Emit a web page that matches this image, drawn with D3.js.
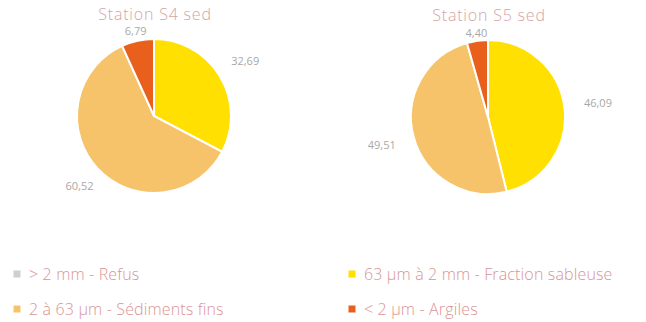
<!DOCTYPE html>
<html>
<head>
  <meta charset="utf-8" />
  <title>Stations S4 / S5 sed</title>
  <script src="https://cdnjs.cloudflare.com/ajax/libs/d3/7.8.5/d3.min.js"></script>
  <style>
    body { margin: 0; background: #fff; }
    svg { font-family: "Open Sans", "Lato", sans-serif; }
  </style>
</head>
<body>
  <svg width="646" height="322"></svg>
  <script>
    // categories (legend order)
    const categories = ['> 2 mm - Refus', '63 \u00b5m \u00e0 2 mm - Fraction sableuse', '2 \u00e0 63 \u00b5m - S\u00e9diments fins', '< 2 \u00b5m - Argiles']
    const colors = ['#cfcfcf', '#ffe000', '#f7c36a', '#e8601c']
    const stations = ['Station S4 sed', 'Station S5 sed']
    const s4Values = [0, 32.69, 60.52, 6.79]
    const s5Values = [0, 46.09, 49.51, 4.40]

    const svg = d3.select('svg')
    const color = d3.scaleOrdinal().domain(categories).range(colors)
    const r = 77
    const pie = d3.pie().sort(null).value(function(d) { return d.v })
    const arc = d3.arc().innerRadius(0).outerRadius(r)
    const fmt = function(v) { return d3.format('.2f')(v).replace('.', ',') }

    function drawPie(title, values, cx, cy) {
      const data = categories.map(function(c, i) { return { cat: c, v: values[i] } })
      const g = svg.append('g').attr('transform', 'translate(' + cx + ',' + cy + ')')

      g.append('text')
        .attr('x', 1)
        .attr('y', -r - 19.5)
        .attr('text-anchor', 'middle')
        .style('font-size', '16px')
        .style('font-weight', 300)
        .style('letter-spacing', '0.8px')
        .style('fill', '#d2a6a6')
        .text(title)

      const arcs = pie(data).filter(function(d) { return d.data.v > 0 })

      g.selectAll('path')
        .data(arcs)
        .enter()
        .append('path')
        .attr('d', arc)
        .style('fill', function(d) { return color(d.data.cat) })
        .style('stroke', '#fff')
        .style('stroke-width', '2px')

      g.selectAll('text.lbl')
        .data(arcs)
        .enter()
        .append('text')
        .attr('class', 'lbl')
        .attr('transform', function(d) {
          const a = (d.startAngle + d.endAngle) / 2
          const s = Math.sin(a), c = -Math.cos(a)
          const dist = r + 3 + Math.abs(s) * 31
          return 'translate(' + (s * dist) + ',' + (c * dist) + ')'
        })
        .attr('text-anchor', 'middle')
        .attr('dy', '0.35em')
        .style('font-size', '11px')
        .style('fill', '#a8a8a8')
        .text(function(d) { return fmt(d.data.v) })
    }

    drawPie(stations[0], s4Values, 154, 116)
    drawPie(stations[1], s5Values, 488, 117)

    // legend
    const legendPos = [[17, 274], [352, 274], [17, 309], [352, 309]]
    const leg = svg.selectAll('g.leg')
      .data(categories)
      .enter()
      .append('g')
      .attr('class', 'leg')
      .attr('transform', function(d, i) { return 'translate(' + legendPos[i][0] + ',' + legendPos[i][1] + ')' })

    leg.append('rect')
      .attr('x', -3.5)
      .attr('y', -3.5)
      .attr('width', 7)
      .attr('height', 7)
      .style('fill', function(d) { return color(d) })

    leg.append('text')
      .attr('x', 12)
      .attr('dy', '0.35em')
      .style('font-size', '16px')
      .style('font-weight', 300)
      .style('letter-spacing', '0.15px')
      .style('fill', '#d99595')
      .text(function(d) { return d })
  </script>
</body>
</html>
